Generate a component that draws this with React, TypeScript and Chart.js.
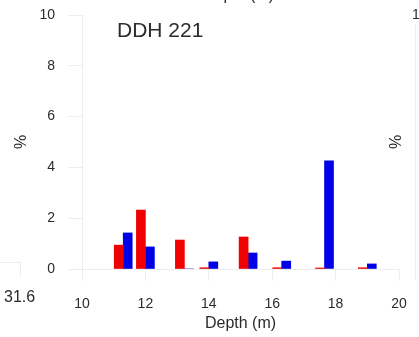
import React, { useEffect, useRef } from "react";
import { Chart, registerables } from "chart.js";

Chart.register(...registerables);

const depths = [11.3, 12.0, 13.23, 14.0, 15.24, 16.3, 17.65, 19.0];
const redValues = [0.94, 2.32, 1.14, 0.05, 1.26, 0.05, 0.04, 0.05];
const blueValues = [1.42, 0.87, 0, 0.28, 0.63, 0.31, 4.26, 0.2];
const xTicks = [10, 12, 14, 16, 18, 20];
const yTicks = [0, 2, 4, 6, 8, 10];
const panelTitle = "DDH 221";
const xTitle = "Depth (m)";
const yTitle = "%";
const leftFragmentLabel = "31.6";
const rightFragmentTick = "1";

const FONT = "'Liberation Sans', Arial, Helvetica, sans-serif";
const TEXT = "#2b2b2b";
const FAINT = "rgba(0,0,0,0.07)";

const overlayPlugin = {
  id: "overlay",
  afterDraw(chart: any) {
    const ctx = chart.ctx;
    const area = chart.chartArea;
    ctx.save();
    ctx.fillStyle = TEXT;
    ctx.font = `21px ${FONT}`;
    ctx.textAlign = "left";
    ctx.textBaseline = "middle";
    ctx.fillText(panelTitle, area.left + 35, 31);
    ctx.font = `16px ${FONT}`;
    ctx.fillText(leftFragmentLabel, 4, 298);
    ctx.textAlign = "center";
    ctx.fillText(xTitle, (area.left + area.right) / 2 - 2, -4);
    ctx.font = `14px ${FONT}`;
    ctx.textAlign = "left";
    ctx.fillText(rightFragmentTick, 412, area.top);
    ctx.save();
    ctx.translate(397, (area.top + area.bottom) / 2);
    ctx.rotate(-Math.PI / 2);
    ctx.textAlign = "center";
    ctx.font = `16px ${FONT}`;
    ctx.fillText(yTitle, 0, 0);
    ctx.restore();
    ctx.strokeStyle = FAINT;
    ctx.lineWidth = 1;
    ctx.beginPath();
    ctx.moveTo(0, 262.5);
    ctx.lineTo(20.5, 262.5);
    ctx.lineTo(20.5, 276);
    ctx.moveTo(415.5, area.top + 10);
    ctx.lineTo(415.5, area.bottom + 10);
    ctx.stroke();
    ctx.restore();
  },
};

export default function App() {
  const ref = useRef<HTMLCanvasElement | null>(null);
  useEffect(() => {
    if (!ref.current) return;
    const chart = new Chart(ref.current, {
      type: "bar",
      data: {
        datasets: [
          {
            label: "red",
            data: depths.map((d, i) => ({ x: d, y: redValues[i] })),
            backgroundColor: "#f00000",
            barThickness: 9,
          },
          {
            label: "blue",
            data: depths.map((d, i) => ({ x: d, y: blueValues[i] })),
            backgroundColor: "#0000e6",
            barThickness: 9,
          },
        ],
      },
      options: {
        responsive: false,
        animation: false,
        devicePixelRatio: 1,
        layout: { padding: { left: 0, right: 20, top: 15, bottom: 0 } },
        plugins: { legend: { display: false }, tooltip: { enabled: false } },
        scales: {
          x: {
            type: "linear",
            min: 10,
            max: 20,
            offset: false,
            afterBuildTicks: (s: any) => {
              s.ticks = xTicks.map((v) => ({ value: v }));
            },
            afterFit: (s: any) => {
              s.height = 68;
              s.paddingLeft = 0;
              s.paddingRight = 0;
            },
            grid: {
              offset: false,
              drawOnChartArea: false,
              drawTicks: true,
              tickLength: 12,
              color: FAINT,
            },
            border: { display: true, color: FAINT },
            ticks: {
              padding: 15,
              color: TEXT,
              maxRotation: 0,
              font: { family: FONT, size: 14 },
            },
            title: {
              display: true,
              text: xTitle,
              color: TEXT,
              font: { family: FONT, size: 16 },
              padding: { top: 0, bottom: 4 },
            },
          },
          y: {
            min: 0,
            max: 10,
            afterBuildTicks: (s: any) => {
              s.ticks = yTicks.map((v) => ({ value: v }));
            },
            afterFit: (s: any) => {
              s.width = 82;
              s.paddingTop = 0;
              s.paddingBottom = 0;
            },
            grid: {
              drawOnChartArea: false,
              drawTicks: true,
              tickLength: 14,
              color: FAINT,
            },
            border: { display: true, color: FAINT },
            ticks: {
              padding: 13,
              color: TEXT,
              font: { family: FONT, size: 14 },
            },
            title: {
              display: true,
              text: yTitle,
              color: TEXT,
              font: { family: FONT, size: 16 },
              padding: { top: 12, bottom: 0 },
            },
          },
        },
      },
      plugins: [overlayPlugin],
    } as any);
    return () => chart.destroy();
  }, []);
  return (
    <div style={{ position: "fixed", left: 0, top: 0, width: 419, height: 337, background: "#fff" }}>
      <canvas ref={ref} width={419} height={337} style={{ display: "block" }} />
    </div>
  );
}
